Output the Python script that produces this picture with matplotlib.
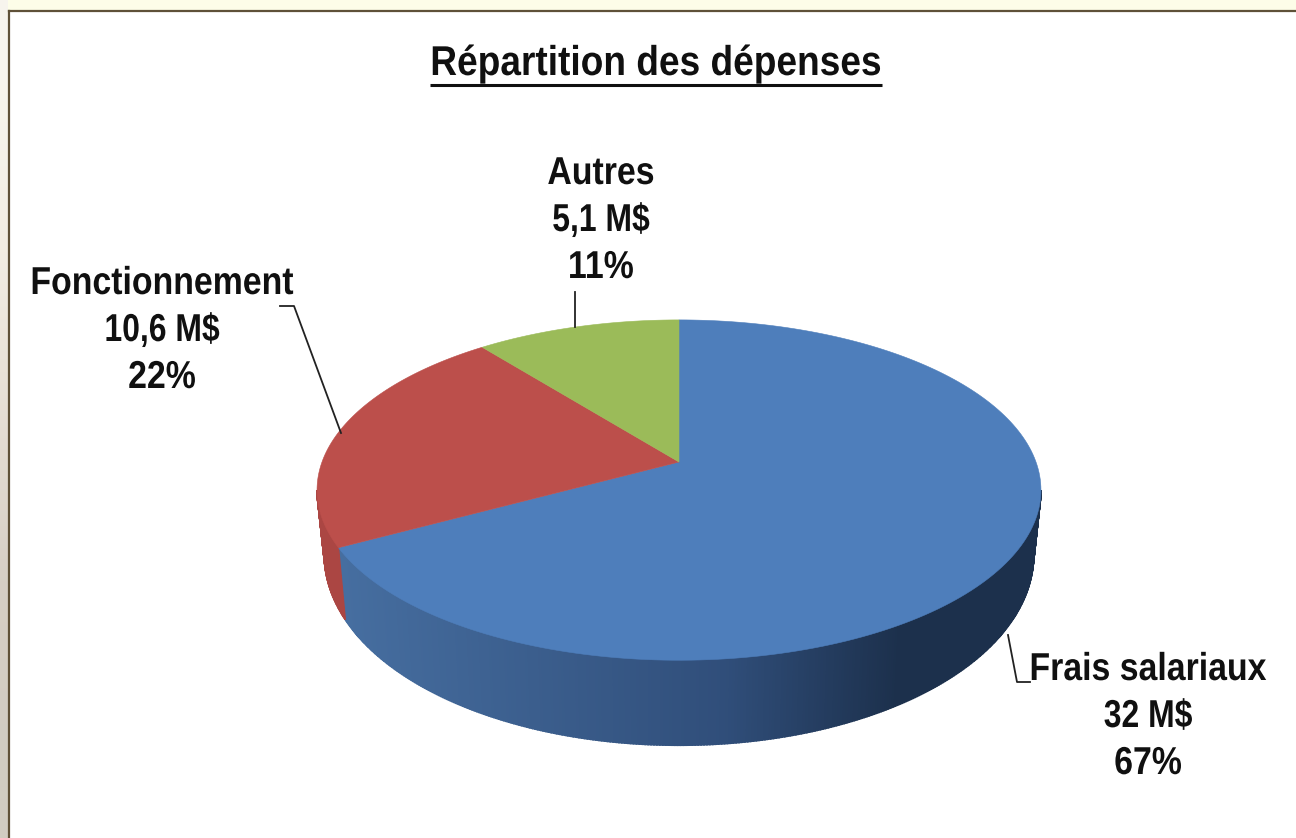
import numpy as np
import matplotlib
matplotlib.use("Agg")
import matplotlib.pyplot as plt
from matplotlib.patheffects import AbstractPathEffect
from matplotlib.transforms import Affine2D

categories = ["Frais salariaux", "Fonctionnement", "Autres"]
amounts = [32, 10.6, 5.1]
amount_labels = ["32 M$", "10,6 M$", "5,1 M$"]
percent_labels = ["67%", "22%", "11%"]
title = "Répartition des dépenses"

plt.rcParams["font.family"] = ["Liberation Sans"]

# pie geometry, in pixels of the picture
cx, cy = 679, 462
radius = 357
squash = -89.3
persp = 0.165

top_colors = ["#4e7ebb", "#bc4f4b", "#9bbb59"]
side_left = np.array([70, 110, 160]) / 255
side_mid = np.array([48, 78, 122]) / 255
side_right = np.array([28, 48, 76]) / 255


class Narrow(AbstractPathEffect):
    # squeezes the text sideways, no condensed font is installed
    def __init__(self, center, factor):
        super().__init__()
        self.center = center
        self.factor = factor

    def draw_path(self, renderer, gc, tpath, affine, rgbFace=None):
        squeeze = Affine2D().translate(-self.center, 0).scale(self.factor, 1).translate(self.center, 0)
        renderer.draw_path(gc, tpath, affine + squeeze, rgbFace)


def top_point(angle):
    # angle is clockwise from 12 o'clock
    x, t = np.sin(angle), np.cos(angle)
    w = 1 + persp * t
    return cx + radius * x / w, (cy + squash * t) / w


def bottom_point(angle):
    x, y = top_point(angle)
    return cx + (x - cx) * 0.98, y + 60 - 25 * np.cos(angle)


def blue_side(x):
    f = (x - 340) / (1040 - 340)
    if f < 0.55:
        return side_left + (side_mid - side_left) * f / 0.55
    return side_mid + (side_right - side_mid) * min((f - 0.55) / 0.25, 1)


fig = plt.figure(figsize=(12.96, 8.38), dpi=100, facecolor="#fdfde8")
ax = fig.add_axes([0, 0, 1, 1])
ax.set_xlim(0, 1296)
ax.set_ylim(838, 0)
ax.axis("off")

# page background on the left of the box
strip = np.array([[0.97, 0.96, 0.93], [0.95, 0.93, 0.89], [0.90, 0.87, 0.83],
                  [0.84, 0.81, 0.77], [0.82, 0.80, 0.76]]).reshape(5, 1, 3)
ax.imshow(strip, extent=(0, 8, 838, 0), aspect="auto", interpolation="bilinear", zorder=1)
ax.set_xlim(0, 1296)
ax.set_ylim(838, 0)

# white box, no visible border on the right and bottom
ax.fill([9, 1296, 1296, 9], [12, 12, 838, 838], color="white", lw=0, zorder=2)
ax.plot([9, 9], [838, 11], color="#5f5138", lw=1.6, zorder=3)
ax.plot([9, 1296], [11, 11], color="#5f5138", lw=1.6, zorder=3)

# slice limits from the values
edges = np.cumsum([0] + amounts) / sum(amounts) * 2 * np.pi

# side wall, only the front part shows
left_end = 2 * np.pi - np.pi / 2 - np.arcsin(persp)
right_start = np.pi / 2 + np.arcsin(persp)
steps = np.linspace(right_start, left_end, 400)
for a0, a1 in zip(steps[:-1], steps[1:]):
    xa, ya = top_point(a0)
    xb, yb = top_point(a1)
    xc, yc = bottom_point(a1)
    xd, yd = bottom_point(a0)
    if a0 < edges[1]:
        col = blue_side((xa + xb) / 2)
    else:
        col = "#ab4643"
    ax.fill([xa, xb, xc, xd], [ya, yb, yc, yd], color=col, lw=1.2, zorder=4)

# top of the pie
for i in range(len(amounts)):
    arc = np.linspace(edges[i], edges[i + 1], 200)
    px, py = top_point(arc)
    ax.fill(np.r_[cx, px], np.r_[cy, py], color=top_colors[i], lw=0.4, zorder=5)

# leader lines
line_style = dict(color="#222222", lw=1.3, zorder=6)
ax.plot([1008, 1017, 1030], [635, 682, 682], **line_style)
ax.plot([280, 294, 341], [306, 306, 433], **line_style)
ax.plot([575, 575], [292, 327], **line_style)

# labels, the amount line has a tighter space in the reference
label_pos = [(1148, 670), (162, 284), (601, 174)]
line_squeeze = [0.87, 0.82, 0.87]
for i, (lx, ly) in enumerate(label_pos):
    lines = [categories[i], amount_labels[i], percent_labels[i]]
    for j, line in enumerate(lines):
        ax.text(lx, ly + j * 47, line, ha="center", va="center", fontsize=28,
                fontweight="bold", color="#101010", zorder=7,
                path_effects=[Narrow(lx, line_squeeze[j])])

ax.text(656, 64, title, ha="center", va="center", fontsize=30, fontweight="bold",
        color="#101010", zorder=7, path_effects=[Narrow(656, 0.89)])
ax.plot([430, 882], [85, 85], color="#101010", lw=2.2, solid_capstyle="butt", zorder=7)

fig.savefig("out.png", dpi=100)
